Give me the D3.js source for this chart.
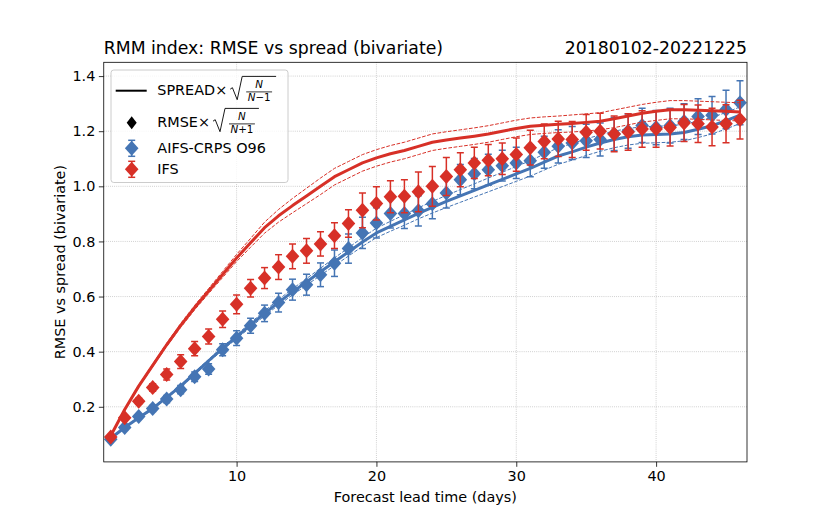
<!DOCTYPE html>
<html>
<head>
<meta charset="utf-8">
<script src="https://cdn.jsdelivr.net/npm/d3@7"></script>
<style>
  body { margin: 0; background: #fff; }
  svg { font-family: "DejaVu Sans", sans-serif; }
</style>
</head>
<body>
<div id="chart"></div>
<script>
// lead time (days)
const leadDays = [1, 2, 3, 4, 5, 6, 7, 8, 9, 10, 11, 12, 13, 14, 15, 16, 17, 18, 19, 20, 21, 22, 23,
    24, 25, 26, 27, 28, 29, 30, 31, 32, 33, 34, 35, 36, 37, 38, 39, 40, 41, 42, 43, 44, 45, 46];

// AIFS-CRPS O96
const aifsRmse = [0.082, 0.125, 0.165, 0.194, 0.228, 0.262, 0.309, 0.337, 0.407, 0.449, 0.494, 0.539,
    0.578, 0.625, 0.643, 0.679, 0.721, 0.774, 0.831, 0.867, 0.901, 0.901, 0.911, 0.937, 0.976, 1.024,
    1.046, 1.06, 1.075, 1.085, 1.093, 1.124, 1.145, 1.157, 1.165, 1.17, 1.19, 1.2, 1.221, 1.213, 1.22,
    1.235, 1.253, 1.258, 1.279, 1.303];
const aifsRmseErr = [0.005, 0.007, 0.009, 0.011, 0.013, 0.015, 0.017, 0.019, 0.022, 0.027, 0.027, 0.03,
    0.034, 0.038, 0.038, 0.043, 0.048, 0.053, 0.057, 0.055, 0.052, 0.054, 0.055, 0.055, 0.055, 0.055,
    0.055, 0.056, 0.056, 0.057, 0.058, 0.058, 0.06, 0.06, 0.06, 0.06, 0.06, 0.062, 0.062, 0.062, 0.063,
    0.065, 0.065, 0.068, 0.07, 0.08];
const aifsSpread = [0.086, 0.125, 0.16, 0.194, 0.234, 0.275, 0.321, 0.367, 0.412, 0.454, 0.497, 0.539,
    0.579, 0.617, 0.653, 0.69, 0.726, 0.762, 0.798, 0.831, 0.855, 0.878, 0.902, 0.924, 0.945, 0.965,
    0.985, 1.005, 1.025, 1.045, 1.065, 1.088, 1.11, 1.125, 1.142, 1.157, 1.17, 1.18, 1.186, 1.188, 1.19,
    1.195, 1.207, 1.22, 1.238, 1.258];
const aifsSpreadBand = [0.002, 0.002, 0.003, 0.003, 0.004, 0.004, 0.005, 0.005, 0.006, 0.007, 0.008,
    0.009, 0.01, 0.011, 0.012, 0.013, 0.014, 0.015, 0.016, 0.017, 0.018, 0.019, 0.02, 0.021, 0.022,
    0.023, 0.024, 0.025, 0.026, 0.027, 0.028, 0.029, 0.03, 0.03, 0.03, 0.03, 0.03, 0.03, 0.03, 0.03,
    0.03, 0.03, 0.03, 0.03, 0.03, 0.03];

// IFS
const ifsRmse = [0.09, 0.16, 0.22, 0.27, 0.317, 0.364, 0.411, 0.455, 0.518, 0.572, 0.63, 0.667, 0.707,
    0.746, 0.766, 0.791, 0.821, 0.865, 0.913, 0.938, 0.962, 0.964, 0.98, 1.0, 1.036, 1.06, 1.085, 1.095,
    1.1, 1.115, 1.14, 1.163, 1.172, 1.17, 1.196, 1.2, 1.19, 1.197, 1.208, 1.208, 1.213, 1.23, 1.227,
    1.215, 1.227, 1.242];
const ifsRmseErr = [0.005, 0.008, 0.011, 0.014, 0.02, 0.025, 0.026, 0.027, 0.03, 0.034, 0.032, 0.038,
    0.045, 0.045, 0.045, 0.044, 0.047, 0.05, 0.063, 0.06, 0.058, 0.06, 0.072, 0.072, 0.069, 0.062, 0.057,
    0.057, 0.057, 0.06, 0.063, 0.063, 0.064, 0.065, 0.065, 0.065, 0.065, 0.066, 0.066, 0.066, 0.067,
    0.067, 0.068, 0.068, 0.069, 0.07];
const ifsSpread = [0.095, 0.19, 0.275, 0.35, 0.425, 0.495, 0.56, 0.62, 0.68, 0.74, 0.795, 0.85, 0.893,
    0.93, 0.965, 1.0, 1.035, 1.06, 1.085, 1.103, 1.118, 1.13, 1.145, 1.16, 1.168, 1.175, 1.182, 1.19,
    1.2, 1.21, 1.218, 1.222, 1.225, 1.228, 1.232, 1.236, 1.245, 1.255, 1.265, 1.272, 1.278, 1.278, 1.276,
    1.274, 1.272, 1.27];
const ifsSpreadBand = [0.002, 0.003, 0.004, 0.005, 0.006, 0.007, 0.008, 0.009, 0.011, 0.013, 0.016,
    0.02, 0.023, 0.026, 0.028, 0.03, 0.03, 0.03, 0.03, 0.03, 0.03, 0.03, 0.03, 0.03, 0.03, 0.03, 0.03,
    0.03, 0.03, 0.03, 0.03, 0.03, 0.03, 0.031, 0.031, 0.031, 0.032, 0.032, 0.032, 0.033, 0.033, 0.033,
    0.033, 0.033, 0.033, 0.033];

const xTicks = [10, 20, 30, 40];
const yTicks = [0.2, 0.4, 0.6, 0.8, 1.0, 1.2, 1.4];

const blue = "#4575b4", red = "#d73027";

const width = 830, height = 519;
const plot = { left: 103.75, right: 747, top: 62.3, bottom: 461.9 };
const fs = 14.4;       // base font size
const titleFs = 17.3;

const svg = d3.select("#chart").append("svg")
    .attr("width", width)
    .attr("height", height);

const x = d3.scaleLinear().domain([0.5, 46.5]).range([plot.left, plot.right]);
const y = d3.scaleLinear().domain([0, 1.45]).range([plot.bottom, plot.top]);

// grid
const grid = svg.append("g");
xTicks.forEach(t => {
    grid.append("line")
        .attr("x1", x(t)).attr("x2", x(t))
        .attr("y1", plot.top).attr("y2", plot.bottom);
});
yTicks.forEach(t => {
    grid.append("line")
        .attr("x1", plot.left).attr("x2", plot.right)
        .attr("y1", y(t)).attr("y2", y(t));
});
grid.selectAll("line")
    .attr("stroke", "#b8b8b8")
    .attr("stroke-width", 0.8)
    .attr("stroke-dasharray", "0.8,1.3");

svg.append("clipPath").attr("id", "clip")
    .append("rect")
    .attr("x", plot.left).attr("y", plot.top)
    .attr("width", plot.right - plot.left).attr("height", plot.bottom - plot.top);

const data = svg.append("g").attr("clip-path", "url(#clip)");

function drawSpread(spread, band, color) {
    const line = d3.line().x((d, i) => x(leadDays[i])).y(d => y(d));
    data.append("path")
        .datum(spread.map((v, i) => v + band[i]))
        .attr("fill", "none").attr("stroke", color)
        .attr("stroke-width", 1).attr("stroke-dasharray", "3.7,1.6")
        .attr("d", line);
    data.append("path")
        .datum(spread.map((v, i) => v - band[i]))
        .attr("fill", "none").attr("stroke", color)
        .attr("stroke-width", 1).attr("stroke-dasharray", "3.7,1.6")
        .attr("d", line);
    data.append("path")
        .datum(spread)
        .attr("fill", "none").attr("stroke", color)
        .attr("stroke-width", 3)
        .attr("stroke-linejoin", "round")
        .attr("d", line);
}

const diamond = "M0,-7.5L6.8,0L0,7.5L-6.8,0Z";

function drawErrorbars(rmse, err, color) {
    const g = data.append("g");
    rmse.forEach((v, i) => {
        const cx = x(leadDays[i]);
        const top = y(v + err[i]), bot = y(v - err[i]);
        g.append("line").attr("x1", cx).attr("x2", cx).attr("y1", top).attr("y2", bot);
        g.append("line").attr("x1", cx - 3.5).attr("x2", cx + 3.5).attr("y1", top).attr("y2", top);
        g.append("line").attr("x1", cx - 3.5).attr("x2", cx + 3.5).attr("y1", bot).attr("y2", bot);
    });
    g.selectAll("line").attr("stroke", color).attr("stroke-width", 1.5);
    g.selectAll("path.mk")
        .data(rmse)
        .join("path")
        .attr("class", "mk")
        .attr("d", diamond)
        .attr("fill", color)
        .attr("transform", (d, i) => `translate(${x(leadDays[i])},${y(d)})`);
}

drawSpread(aifsSpread, aifsSpreadBand, blue);
drawErrorbars(aifsRmse, aifsRmseErr, blue);
drawSpread(ifsSpread, ifsSpreadBand, red);
drawErrorbars(ifsRmse, ifsRmseErr, red);

// axes
const xAxis = svg.append("g")
    .attr("transform", `translate(0,${plot.bottom})`)
    .call(d3.axisBottom(x).tickValues(xTicks).tickFormat(d3.format("d")).tickSize(4.9).tickPadding(3.5));
const yAxis = svg.append("g")
    .attr("transform", `translate(${plot.left},0)`)
    .call(d3.axisLeft(y).tickValues(yTicks).tickFormat(d3.format(".1f")).tickSize(4.9).tickPadding(3.5));
[xAxis, yAxis].forEach(a => {
    a.select(".domain").remove();
    a.selectAll("line").attr("stroke", "#000").attr("stroke-width", 0.8);
    a.selectAll("text").attr("font-size", fs + "px").attr("fill", "#000")
        .attr("font-family", "DejaVu Sans, sans-serif");
});

svg.append("rect")
    .attr("x", plot.left).attr("y", plot.top)
    .attr("width", plot.right - plot.left).attr("height", plot.bottom - plot.top)
    .attr("fill", "none").attr("stroke", "#000").attr("stroke-width", 0.8);

// labels
svg.append("text")
    .attr("x", plot.left).attr("y", 53.5)
    .attr("font-size", titleFs + "px")
    .text("RMM index: RMSE vs spread (bivariate)");
svg.append("text")
    .attr("x", plot.right).attr("y", 53.5)
    .attr("text-anchor", "end")
    .attr("font-size", titleFs + "px")
    .text("20180102-20221225");
svg.append("text")
    .attr("x", (plot.left + plot.right) / 2).attr("y", 502)
    .attr("text-anchor", "middle")
    .attr("font-size", fs + "px")
    .text("Forecast lead time (days)");
svg.append("text")
    .attr("transform", `translate(65,${(plot.top + plot.bottom) / 2}) rotate(-90)`)
    .attr("text-anchor", "middle")
    .attr("font-size", fs + "px")
    .text("RMSE vs spread (bivariate)");

// legend
const leg = svg.append("g");
leg.append("rect")
    .attr("x", 111).attr("y", 70).attr("width", 177).attr("height", 112.5)
    .attr("rx", 2.8)
    .attr("fill", "#fff").attr("fill-opacity", 0.8)
    .attr("stroke", "#cccccc").attr("stroke-width", 1);

const textX = 157.3;
const handleX = 131.7;

function mathLabel(rowY, label, denom) {
    const t = leg.append("text")
        .attr("x", textX).attr("y", rowY + 4.7)
        .attr("font-size", fs + "px")
        .text(label);
    const x0 = textX + t.node().getComputedTextLength() + 3;
    const num = leg.append("text")
        .attr("y", rowY - 2.5)
        .attr("font-size", "10.3px").attr("font-style", "italic")
        .attr("text-anchor", "middle")
        .text("N");
    const den = leg.append("text")
        .attr("y", rowY + 10)
        .attr("font-size", "10.3px")
        .attr("text-anchor", "middle");
    den.append("tspan").attr("font-style", "italic").text("N");
    den.append("tspan").text(denom);
    const fw = Math.max(num.node().getComputedTextLength(), den.node().getComputedTextLength()) + 3;
    const topX = x0 + 12;
    const fx = topX + 4 + fw / 2;
    num.attr("x", fx);
    den.attr("x", fx);
    leg.append("line")
        .attr("x1", topX + 4).attr("x2", topX + 4 + fw)
        .attr("y1", rowY + 1.2).attr("y2", rowY + 1.2)
        .attr("stroke", "#000").attr("stroke-width", 0.8);
    leg.append("path")
        .attr("d", `M${x0},${rowY - 1.5}L${x0 + 2.2},${rowY - 3}L${x0 + 7},${rowY + 9}L${topX},${rowY - 14.3}L${topX + fw + 8},${rowY - 14.3}`)
        .attr("fill", "none").attr("stroke", "#000").attr("stroke-width", 0.9)
        .attr("stroke-linejoin", "miter");
}

// spread entry
leg.append("line")
    .attr("x1", 115.7).attr("x2", 146.7).attr("y1", 90.7).attr("y2", 90.7)
    .attr("stroke", "#000").attr("stroke-width", 2);
mathLabel(90.7, "SPREAD×", "\u22121");

// rmse entry
leg.append("path")
    .attr("d", "M0,-6.5L5,0L0,6.5L-5,0Z")
    .attr("fill", "#000")
    .attr("transform", `translate(${handleX},122.7)`);
mathLabel(122.7, "RMSE×", "+1");

function errEntry(rowY, color, label) {
    const g = leg.append("g");
    g.append("line").attr("x1", handleX).attr("x2", handleX).attr("y1", rowY - 8).attr("y2", rowY + 8);
    g.append("line").attr("x1", handleX - 3.5).attr("x2", handleX + 3.5).attr("y1", rowY - 8).attr("y2", rowY - 8);
    g.append("line").attr("x1", handleX - 3.5).attr("x2", handleX + 3.5).attr("y1", rowY + 8).attr("y2", rowY + 8);
    g.selectAll("line").attr("stroke", color).attr("stroke-width", 1.5);
    g.append("path").attr("d", diamond).attr("fill", color)
        .attr("transform", `translate(${handleX},${rowY})`);
    leg.append("text")
        .attr("x", textX).attr("y", rowY + 5)
        .attr("font-size", fs + "px")
        .text(label);
}
errEntry(148.3, blue, "AIFS-CRPS O96");
errEntry(169.3, red, "IFS");
</script>
</body>
</html>
